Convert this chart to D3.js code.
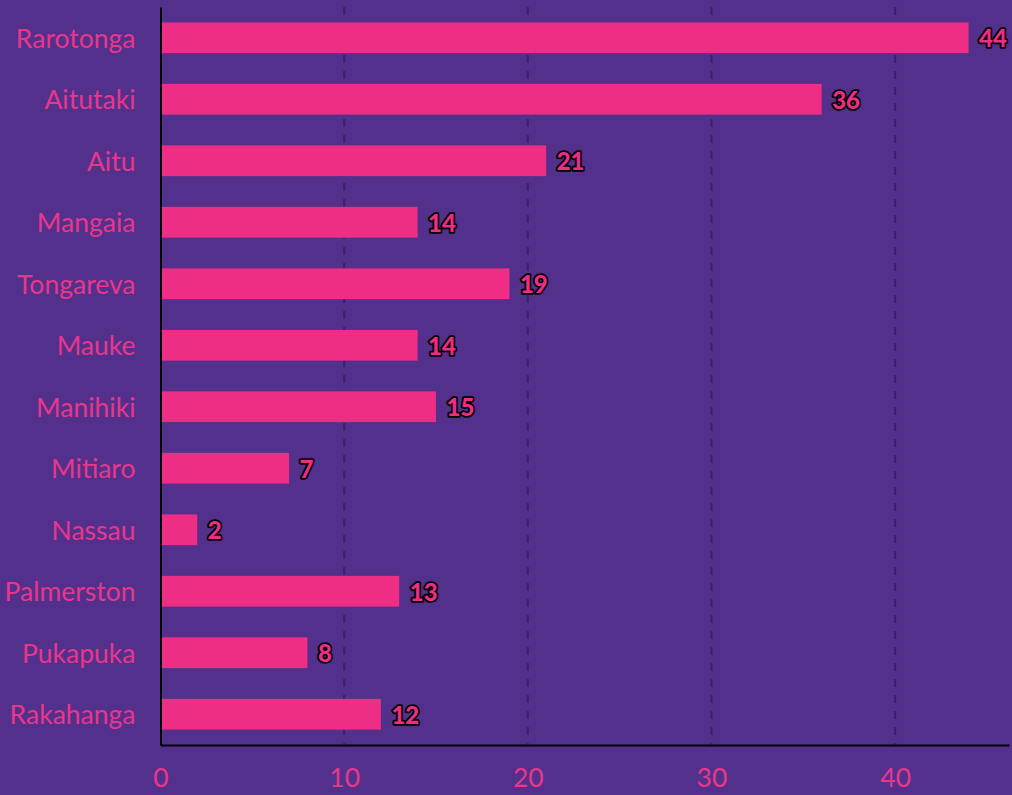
<!DOCTYPE html>
<html><head><meta charset="utf-8">
<script src="https://cdn.jsdelivr.net/npm/d3@7/dist/d3.min.js"></script>
<style>
html,body{margin:0;padding:0;background:#52308c;}
svg{display:block;}
</style></head>
<body>
<svg id="chart" width="1012" height="795"></svg>
<script>
const categories = ["Rarotonga","Aitutaki","Aitu","Mangaia","Tongareva","Mauke","Manihiki","Mitiaro","Nassau","Palmerston","Pukapuka","Rakahanga"];
const values = [44,36,21,14,19,14,15,7,2,13,8,12];
const tickValues = [0,10,20,30,40];

const W = 1012, H = 795;
const margin = {top: 7, right: 3, bottom: 50, left: 160.5};
const svg = d3.select("#chart");
svg.append("rect").attr("width", W).attr("height", H).attr("fill", "#52308c");

const x = d3.scaleLinear().domain([0, d3.max(values) * 1.05]).range([margin.left, W - margin.right]);
const y = d3.scaleBand().domain(categories).range([margin.top, H - margin.bottom]).paddingInner(0.5).paddingOuter(0.25);

// grid
svg.append("g").selectAll("line").data(tickValues.filter(d => d > 0)).join("line")
  .attr("x1", d => x(d)).attr("x2", d => x(d))
  .attr("y1", margin.top).attr("y2", H - margin.bottom)
  .attr("stroke", "#3a2066").attr("stroke-width", 2).attr("stroke-dasharray", "8,8");

// bars
svg.append("g").selectAll("rect").data(categories).join("rect")
  .attr("x", x(0)).attr("y", d => y(d))
  .attr("width", (d, i) => x(values[i]) - x(0))
  .attr("height", y.bandwidth())
  .attr("fill", "#ee2d84");

// value labels
svg.append("g").selectAll("text").data(categories).join("text")
  .attr("x", (d, i) => x(values[i]) + 10.5)
  .attr("y", d => y(d) + y.bandwidth() / 2)
  .attr("dy", "0.4em")
  .attr("font-family", "Lato, sans-serif").attr("font-weight", 900).attr("font-size", 24)
  .attr("fill", "#ee2d84").attr("stroke", "#000").attr("stroke-width", 3.5)
  .attr("paint-order", "stroke").attr("stroke-linejoin", "round")
  .text((d, i) => values[i]);

// y axis
const yAxis = svg.append("g").attr("transform", `translate(${margin.left},0)`)
  .call(d3.axisLeft(y).tickSize(0).tickPadding(25));
yAxis.select(".domain").attr("stroke", "#000").attr("stroke-width", 2);
yAxis.selectAll("text").attr("font-family", "Lato, sans-serif").attr("font-size", 26.5).attr("fill", "#e8378a").attr("dy", "0.37em");

// x axis
const xAxis = svg.append("g").attr("transform", `translate(0,${H - margin.bottom})`)
  .call(d3.axisBottom(x).tickValues(tickValues).tickSize(0).tickPadding(23).tickSizeOuter(0));
xAxis.select(".domain").attr("stroke", "#000").attr("stroke-width", 2);
xAxis.selectAll("text").attr("font-family", "Lato, sans-serif").attr("font-size", 26.5).attr("fill", "#e8378a");
</script>
</body></html>
